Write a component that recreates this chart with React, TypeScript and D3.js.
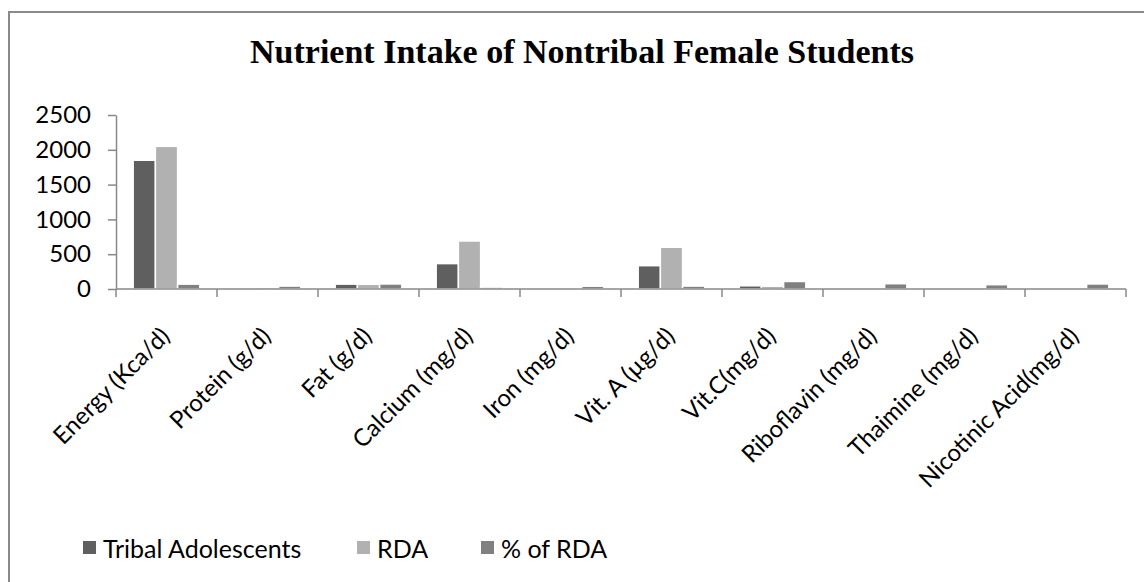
import { useEffect, useRef } from 'react';
import * as d3 from 'd3';

const categories = [
  'Energy (Kca/d)',
  'Protein (g/d)',
  'Fat (g/d)',
  'Calcium (mg/d)',
  'Iron (mg/d)',
  'Vit. A (µg/d)',
  'Vit.C(mg/d)',
  'Riboflavin (mg/d)',
  'Thaimine (mg/d)',
  'Nicotinic Acid(mg/d)'
];

const seriesNames = ['Tribal Adolescents', 'RDA', '% of RDA'];

const tribalValues = [1850, 8, 70, 365, 10, 335, 46, 1, 1, 1];
const rdaValues = [2050, 25, 68, 690, 20, 600, 40, 1, 1, 1];
const pctRdaValues = [70, 42, 72, 27, 40, 42, 108, 76, 62, 72];

const yTicks = [0, 500, 1000, 1500, 2000, 2500];

const colors = ['#5f5f5f', '#b1b1b1', '#808080'];

const W = 1144;
const H = 582;

export default function App() {
  const svgRef = useRef<SVGSVGElement>(null);

  useEffect(() => {
    if (!svgRef.current) return;
    const svg = d3.select(svgRef.current);
    svg.selectAll('*').remove();

    const sans = 'Lato, "Open Sans", sans-serif';
    const axisColor = '#888888';

    // chart frame: only the top and left edges are in view
    svg.append('path')
      .attr('d', `M9,${H} L9,12 L${W},12`)
      .attr('fill', 'none')
      .attr('stroke', '#8a8a8a')
      .attr('stroke-width', 2);

    // title
    svg.append('text')
      .attr('x', 582)
      .attr('y', 63)
      .attr('text-anchor', 'middle')
      .attr('font-family', '"Liberation Serif", "Times New Roman", serif')
      .attr('font-weight', 'bold')
      .attr('font-size', '34px')
      .attr('fill', '#000')
      .text('Nutrient Intake of Nontribal Female Students');

    const x0 = d3.scaleBand<string>()
      .domain(categories)
      .range([116, 1126])
      .paddingInner(0.34)
      .paddingOuter(0.17);

    const x1 = d3.scaleBand<string>()
      .domain(seriesNames)
      .range([0, x0.bandwidth()]);

    const y = d3.scaleLinear()
      .domain([0, 2500])
      .range([289, 115]);

    const seriesValues = [tribalValues, rdaValues, pctRdaValues];

    // bars
    seriesNames.forEach((name, si) => {
      svg.append('g')
        .selectAll('rect')
        .data(seriesValues[si])
        .join('rect')
        .attr('x', (_, i) => (x0(categories[i]) ?? 0) + (x1(name) ?? 0))
        .attr('y', d => y(d))
        .attr('width', x1.bandwidth())
        .attr('height', d => y(0) - y(d))
        .attr('fill', colors[si])
        .attr('stroke', '#ffffff')
        .attr('stroke-width', 1.5);
    });

    // y axis
    const yAxis = svg.append('g')
      .attr('transform', 'translate(116,0)')
      .call(d3.axisLeft(y).tickValues(yTicks).tickFormat(d3.format('d')).tickSize(8).tickPadding(17).tickSizeOuter(0));
    yAxis.select('.domain').attr('stroke', axisColor).attr('stroke-width', 1.5);
    yAxis.selectAll('.tick line').attr('stroke', axisColor).attr('stroke-width', 1.5);
    yAxis.selectAll('.tick text')
      .attr('font-family', sans)
      .attr('font-size', '24px')
      .attr('fill', '#000');

    // x axis with ticks at category boundaries
    const xAxisG = svg.append('g');
    xAxisG.append('line')
      .attr('x1', 116)
      .attr('x2', 1126)
      .attr('y1', y(0))
      .attr('y2', y(0))
      .attr('stroke', axisColor)
      .attr('stroke-width', 1.5);
    const step = x0.step();
    const boundaries = d3.range(categories.length + 1).map(i => 116 + i * step);
    xAxisG.selectAll('line.tk')
      .data(boundaries)
      .join('line')
      .attr('class', 'tk')
      .attr('x1', d => d)
      .attr('x2', d => d)
      .attr('y1', y(0))
      .attr('y2', y(0) + 8)
      .attr('stroke', axisColor)
      .attr('stroke-width', 1.5);

    xAxisG.selectAll('text')
      .data(categories)
      .join('text')
      .attr('transform', d => {
        const cx = (x0(d) ?? 0) + x0.bandwidth() / 2;
        return `translate(${cx - 2},331) rotate(-45)`;
      })
      .attr('text-anchor', 'end')
      .attr('dominant-baseline', 'central')
      .attr('font-family', sans)
      .attr('font-size', '24px')
      .attr('fill', '#000')
      .text(d => d);

    // legend
    const legendX = [83, 357, 481];
    const legend = svg.append('g');
    seriesNames.forEach((name, i) => {
      legend.append('rect')
        .attr('x', legendX[i])
        .attr('y', 541)
        .attr('width', 13)
        .attr('height', 13)
        .attr('fill', colors[i]);
      legend.append('text')
        .attr('x', legendX[i] + 20)
        .attr('y', 548)
        .attr('dominant-baseline', 'central')
        .attr('font-family', sans)
        .attr('font-size', '25px')
        .attr('fill', '#000')
        .text(name);
    });
  }, []);

  return (
    <svg
      ref={svgRef}
      width={W}
      height={H}
      style={{ position: 'absolute', left: 0, top: 0, display: 'block', background: '#fff' }}
    />
  );
}
